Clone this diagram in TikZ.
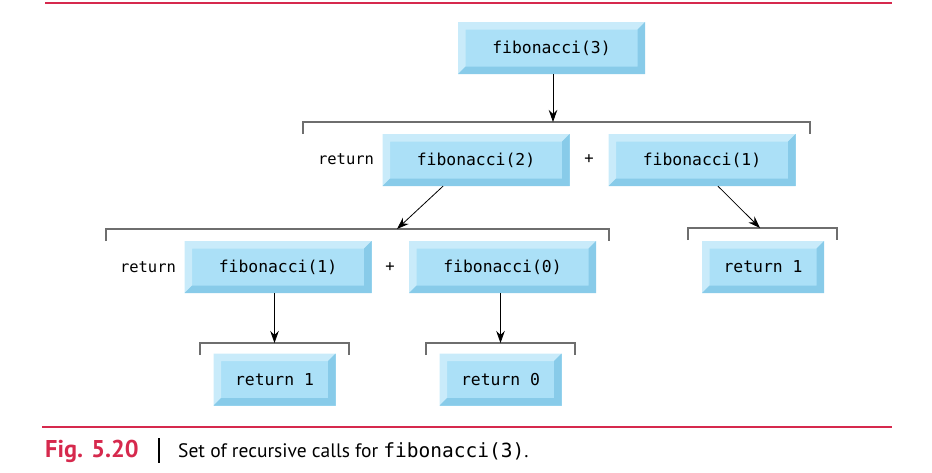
\documentclass[tikz,border=0pt]{standalone}
\usepackage{fontspec}
\setmainfont{PT Sans}
\setmonofont{DejaVu Sans Mono}
\usetikzlibrary{arrows.meta}
\tikzset{>=Stealth}
\definecolor{boxface}{HTML}{ABE0F7}
\definecolor{boxlite}{HTML}{C9EBFA}
\definecolor{boxdark}{HTML}{88CBE9}
\definecolor{rulered}{HTML}{D6294D}
\definecolor{bracketgray}{HTML}{6E6E6E}
\def\bw{7.5pt}
\tikzstyle{bevelbox}=[fill=boxface, inner sep=0pt, minimum height=52pt,
  font=\fontsize{16.4}{19}\ttfamily,
  path picture={
    \fill[boxlite] (path picture bounding box.south west) -- (path picture bounding box.north west)
      -- (path picture bounding box.north east) -- ([shift={(-\bw,-\bw)}]path picture bounding box.north east)
      -- ([shift={(\bw,-\bw)}]path picture bounding box.north west) -- ([shift={(\bw,\bw)}]path picture bounding box.south west) -- cycle;
    \fill[boxdark] (path picture bounding box.south west) -- (path picture bounding box.south east)
      -- (path picture bounding box.north east) -- ([shift={(-\bw,-\bw)}]path picture bounding box.north east)
      -- ([shift={(-\bw,\bw)}]path picture bounding box.south east) -- ([shift={(\bw,\bw)}]path picture bounding box.south west) -- cycle;
  }]
\tikzstyle{callbox}=[bevelbox, minimum width=187pt]
\tikzstyle{retbox}=[bevelbox, minimum width=122pt]
\tikzstyle{codetext}=[inner sep=0pt, font=\fontsize{15.5}{19}\ttfamily]
\tikzstyle{bracket}=[bracketgray, line width=1.3pt]
\tikzstyle{callarrow}=[->, black, line width=0.8pt, >={Stealth[length=12pt,width=8.5pt]}]

\begin{document}
\begin{tikzpicture}[x=1pt, y=-1pt]
  \useasboundingbox (0,0) rectangle (932,472);
  % rules
  \draw[rulered, line width=2pt] (45,3) -- (892,3);
  \draw[rulered, line width=2pt] (42,427) -- (892,427);
  % calls
  \node[callbox] (f3) at (551.5,48) {fibonacci(3)};
  \node[codetext] (ret2) at (346,159) {return};
  \node[callbox] (f2) at (476,160) {fibonacci(2)};
  \node[codetext] (plus1) at (589,159) {+};
  \node[callbox] (f1a) at (702,160) {fibonacci(1)};
  \node[codetext] (ret3) at (148,267) {return};
  \node[callbox] (f1b) at (278,267) {fibonacci(1)};
  \node[codetext] (plus2) at (390,267) {+};
  \node[callbox] (f0) at (502.5,267) {fibonacci(0)};
  \node[retbox] (r1a) at (763,267) {return 1};
  \node[retbox] (r1b) at (274.5,379.5) {return 1};
  \node[retbox] (r0) at (500.5,379.5) {return 0};
  % brackets
  \foreach \by/\bl/\br in {122/303/810, 229/106/609, 228/688/837, 343/200/349, 343/426/575}
    \draw[bracket] (\bl,\by+12) |- (\br,\by) -- (\br,\by+12);
  \coordinate (t1) at (553,122);
  \coordinate (t2) at (397,229);
  \coordinate (t3) at (760,228);
  \coordinate (t4) at (274.5,343);
  \coordinate (t5) at (500.5,343);
  % arrows
  \draw[callarrow] (f3.south -| t1) -- (t1);
  \draw[callarrow] ([xshift=-33pt]f2.south) -- (t2);
  \draw[callarrow] ([xshift=16pt]f1a.south) -- (t3);
  \draw[callarrow] (f1b.south -| t4) -- (t4);
  \draw[callarrow] (f0.south -| t5) -- (t5);
  % caption
  \node[anchor=base west, inner sep=0pt, text=rulered, font=\fontsize{24.3}{28}\selectfont\bfseries] (fig) at (45,457) {Fig. 5.20};
  \draw[black, line width=1.1pt] (159,438) -- (159,463);
  \node[anchor=base west, inner sep=0pt, font=\fontsize{19.5}{23}\selectfont] (cap) at (178,457)
    {Set of recursive calls for {\ttfamily fibonacci(3)}.};
\end{tikzpicture}
\end{document}
